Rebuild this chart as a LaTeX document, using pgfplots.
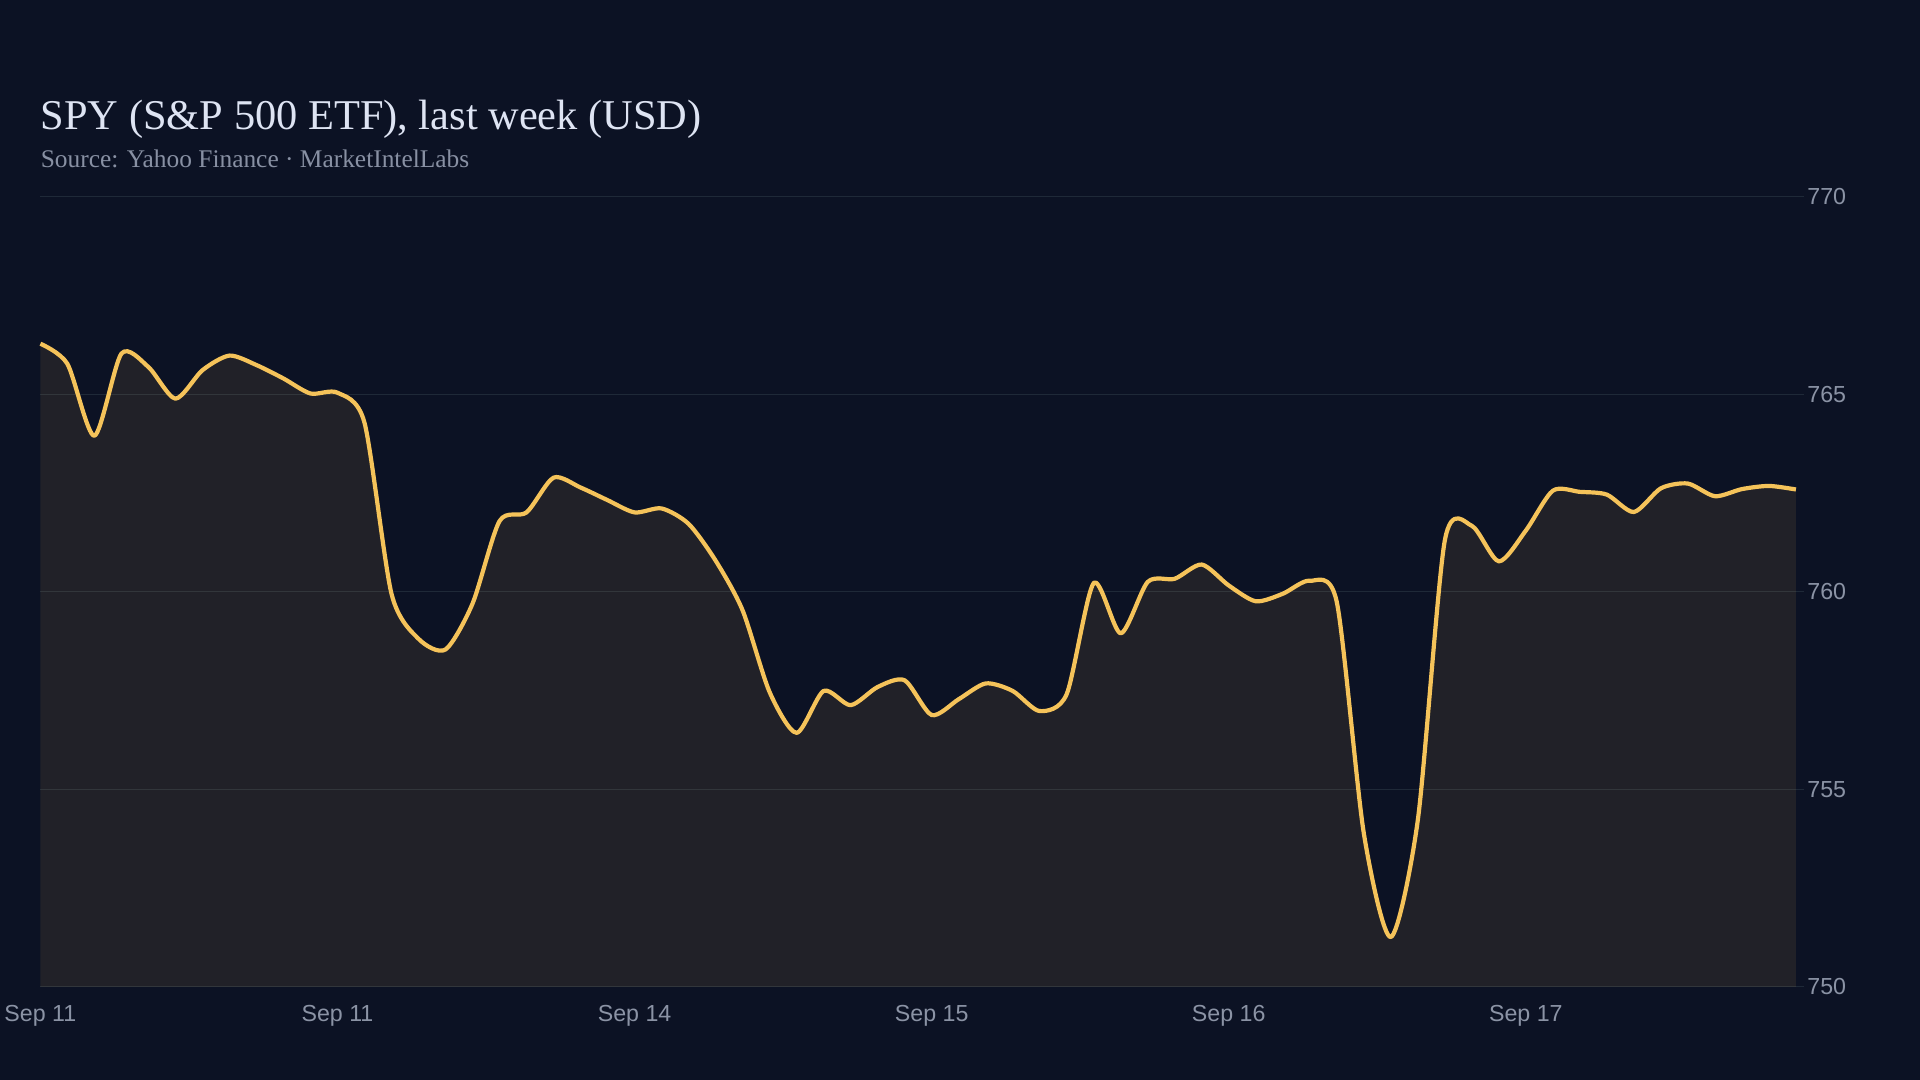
\documentclass[border=0pt]{standalone}
\usepackage{pgfplots}
\pgfplotsset{compat=1.18}
\usepackage{pgfplotstable}
\usepackage{fontspec}
\setmainfont{Liberation Serif}
\newfontfamily\ticksfont{Liberation Sans}

\definecolor{bgc}{RGB}{12,18,36}
\definecolor{gridc}{RGB}{31,41,56}
\definecolor{linec}{RGB}{245,195,90}
\definecolor{titlec}{RGB}{222,228,243}
\definecolor{subc}{RGB}{136,144,163}
\definecolor{tickc}{RGB}{139,147,165}

% SPY close, hourly index (11 per day)
\pgfplotstableread{
i y
0 766.28
1 765.77
2 763.95
3 766.03
4 765.69
5 764.89
6 765.61
7 765.98
8 765.74
9 765.40
10 765.02
11 765.04
12 764.28
13 759.95
14 758.81
15 758.54
16 759.70
17 761.79
18 762.01
19 762.89
20 762.64
21 762.32
22 762.01
23 762.11
24 761.72
25 760.79
26 759.53
27 757.46
28 756.43
29 757.49
30 757.13
31 757.59
32 757.76
33 756.88
34 757.28
35 757.68
36 757.49
37 756.98
38 757.41
39 760.22
40 758.95
41 760.25
42 760.33
43 760.69
44 760.16
45 759.76
46 759.95
47 760.28
48 759.74
49 753.89
50 751.26
51 754.22
52 761.30
53 761.67
54 760.77
55 761.55
56 762.56
57 762.53
58 762.46
59 762.02
60 762.62
61 762.74
62 762.42
63 762.60
64 762.68
65 762.59
}\spydata

\begin{document}
\begin{tikzpicture}
\fill[bgc] (0,0) rectangle (960pt,540pt);
\useasboundingbox (0,0) rectangle (960pt,540pt);
\node[anchor=base west, inner sep=0pt, text=titlec, font=\fontsize{21.2}{24}\selectfont] at (20.2pt,475pt) {SPY (S\&P 500 ETF), last week (USD)};
\node[anchor=base west, inner sep=0pt, text=subc, font=\fontsize{12.7}{15}\selectfont] at (20.2pt,456pt) {Source: Yahoo Finance · MarketIntelLabs};
\begin{axis}[
  at={(20.2pt,46.6pt)}, anchor=south west,
  scale only axis,
  width=881.8pt, height=395pt,
  xmin=0, xmax=65.3,
  ymin=750, ymax=770,
  xtick={0,11,22,33,44,55},
  xticklabels={Sep 11, Sep 11, Sep 14, Sep 15, Sep 16, Sep 17},
  ytick={750,755,760,765,770},
  yticklabel pos=right,
  axis line style={draw=none},
  major tick length=0pt,
  ymajorgrids,
  grid style={draw=gridc, line width=0.5pt},
  tick label style={text=tickc, font=\ticksfont\fontsize{11.6}{13}\selectfont},
  xticklabel style={anchor=north, inner sep=0pt, yshift=-9pt},
  yticklabel style={anchor=west, inner sep=0pt, xshift=1.5pt},
  /pgf/number format/assume math mode=true,
  clip=false,
]
\addplot[draw=none, fill=linec, fill opacity=0.09, smooth, tension=0.45] table[x=i, y=y] {\spydata} \closedcycle;
\addplot[linec, line width=2.1pt, smooth, tension=0.45, line join=round] table[x=i, y=y] {\spydata};
\end{axis}
\end{tikzpicture}
\end{document}
